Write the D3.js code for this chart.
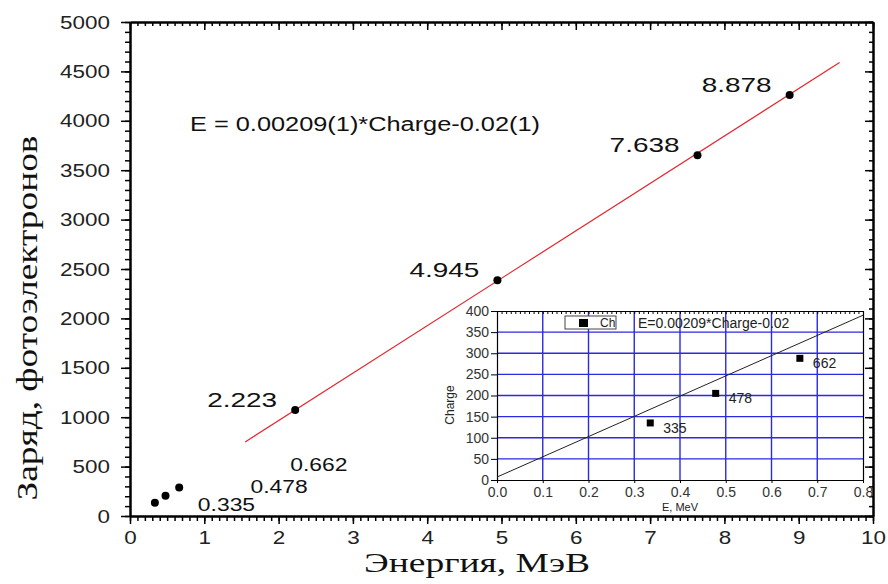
<!DOCTYPE html>
<html><head><meta charset="utf-8">
<script src="https://cdn.jsdelivr.net/npm/d3@7"></script>
<style>body{margin:0;background:#fff} svg{display:block}</style>
</head><body><svg id="c" width="888" height="584"></svg>
<script>
// ---- data ----
const energies = [0.335, 0.478, 0.662, 2.223, 4.945, 7.638, 8.878];
const charges = [135, 205, 288, 1072, 2385, 3652, 4262];
const peakLabels = ["0.335", "0.478", "0.662", "2.223", "4.945", "7.638", "8.878"];
const fitE = [1.55, 9.55];
const fitCharge = [750, 4590];
const xTicks = [0, 1, 2, 3, 4, 5, 6, 7, 8, 9, 10];
const yTicks = [0, 500, 1000, 1500, 2000, 2500, 3000, 3500, 4000, 4500, 5000];
const fitText = "E = 0.00209(1)*Charge-0.02(1)";
const xTitle = "Энергия, МэВ";
const yTitle = "Заряд, фотоэлектронов";

const insetE = [0.335, 0.478, 0.662];
const insetCharge = [135, 205, 288];
const insetLabels = ["335", "478", "662"];
const insetFitE = [0, 0.8];
const insetFitCharge = [7, 390];
const insetXTicks = [0, 0.1, 0.2, 0.3, 0.4, 0.5, 0.6, 0.7, 0.8];
const insetYTicks = [0, 50, 100, 150, 200, 250, 300, 350, 400];
const insetFitText = "E=0.00209*Charge-0.02";
const insetLegend = "Ch";
const insetXTitle = "E, MeV";
const insetYTitle = "Charge";

// ---- drawing ----
const svg = d3.select("#c");
const SANS = "'Liberation Sans', Arial, Helvetica, sans-serif";
const SERIF = "'Liberation Serif', 'Times New Roman', serif";

function stretch(sel, k) {
  sel.each(function () {
    const w = this.getComputedTextLength();
    d3.select(this).attr("textLength", w * k).attr("lengthAdjust", "spacingAndGlyphs");
  });
}

const M = { l: 130, r: 873, t: 22, b: 516 };
const x = d3.scaleLinear().domain([0, 10]).range([M.l, M.r]);
const y = d3.scaleLinear().domain([0, 5000]).range([M.b, M.t]);

const minorX = d3.range(0, 10.001, 0.1);
const minorY = d3.range(0, 5001, 100);

function styleAxis(g, w) {
  g.selectAll("path.domain").attr("stroke", "#000").attr("stroke-width", w);
  g.selectAll(".tick line").attr("stroke", "#000").attr("stroke-width", 1.5);
}

// minor ticks
svg.append("g").attr("transform", `translate(0,${M.b})`)
  .call(d3.axisBottom(x).tickValues(minorX).tickSize(5).tickFormat("").tickSizeOuter(0))
  .call(g => styleAxis(g, 2));
svg.append("g").attr("transform", `translate(0,${M.t})`)
  .call(d3.axisTop(x).tickValues(minorX).tickSize(-4).tickFormat("").tickSizeOuter(0))
  .call(g => styleAxis(g, 2));
svg.append("g").attr("transform", `translate(${M.l},0)`)
  .call(d3.axisLeft(y).tickValues(minorY).tickSize(5).tickFormat("").tickSizeOuter(0))
  .call(g => styleAxis(g, 2));
svg.append("g").attr("transform", `translate(${M.r},0)`)
  .call(d3.axisRight(y).tickValues(minorY).tickSize(-4).tickFormat("").tickSizeOuter(0))
  .call(g => styleAxis(g, 2));

// major ticks
const gx = svg.append("g").attr("transform", `translate(0,${M.b})`)
  .call(d3.axisBottom(x).tickValues(xTicks).tickSize(8).tickPadding(7).tickSizeOuter(0).tickFormat(d3.format("d")))
  .call(g => styleAxis(g, 2));
gx.selectAll("text").attr("font-family", SANS).attr("font-size", 19).attr("fill", "#222");
stretch(gx.selectAll("text"), 1.18);

const gy = svg.append("g").attr("transform", `translate(${M.l},0)`)
  .call(d3.axisLeft(y).tickValues(yTicks).tickSize(9).tickPadding(11).tickSizeOuter(0).tickFormat(d3.format("d")))
  .call(g => styleAxis(g, 2));
gy.selectAll("text").attr("font-family", SANS).attr("font-size", 19).attr("fill", "#222");
stretch(gy.selectAll("text"), 1.18);

svg.append("g").attr("transform", `translate(0,${M.t})`)
  .call(d3.axisTop(x).tickValues(xTicks).tickSize(-8).tickFormat("").tickSizeOuter(0))
  .call(g => styleAxis(g, 2));
svg.append("g").attr("transform", `translate(${M.r},0)`)
  .call(d3.axisRight(y).tickValues(yTicks).tickSize(-8).tickFormat("").tickSizeOuter(0))
  .call(g => styleAxis(g, 2));

// fit line
svg.append("path")
  .datum(fitE.map((e, i) => [e, fitCharge[i]]))
  .attr("d", d3.line().x(d => x(d[0])).y(d => y(d[1])))
  .attr("stroke", "#e4262e").attr("stroke-width", 1.2).attr("fill", "none");

// points
const pts = energies.map((e, i) => ({ e, c: charges[i], lab: peakLabels[i], i }));
svg.append("g").selectAll("circle").data(pts).join("circle")
  .attr("cx", d => x(d.e)).attr("cy", d => y(d.c)).attr("r", 4).attr("fill", "#000");

// labels: high peaks to upper-left, low peaks in a staircase
const lowOff = [[43, 8], [85, -3], [111, -17]];
const lt = svg.append("g").selectAll("text").data(pts).join("text")
  .attr("font-family", SANS).attr("fill", "#111")
  .attr("font-size", d => d.e < 1 ? 18 : 21)
  .attr("text-anchor", d => d.e < 1 ? "start" : "end")
  .attr("x", d => d.e < 1 ? x(d.e) + lowOff[d.i][0] : x(d.e) - 18)
  .attr("y", d => d.e < 1 ? y(d.c) + lowOff[d.i][1] : y(d.c) - 3)
  .text(d => d.lab);
lt.each(function (d) { stretch(d3.select(this), d.e < 1 ? 1.27 : 1.33); });

// equation
svg.append("text").attr("x", 190).attr("y", 131)
  .attr("font-family", SANS).attr("font-size", 20).attr("fill", "#111")
  .attr("textLength", 350).attr("lengthAdjust", "spacingAndGlyphs")
  .text(fitText);

// axis titles
svg.append("text").attr("x", 477).attr("y", 572).attr("text-anchor", "middle")
  .attr("font-family", SERIF).attr("font-size", 28).attr("fill", "#111")
  .attr("textLength", 226).attr("lengthAdjust", "spacingAndGlyphs")
  .text(xTitle);
svg.append("text").attr("transform", "translate(37,318) rotate(-90)").attr("text-anchor", "middle")
  .attr("font-family", SERIF).attr("font-size", 29).attr("fill", "#111")
  .attr("textLength", 365).attr("lengthAdjust", "spacingAndGlyphs")
  .text(yTitle);

// ---- inset ----
const I = { l: 497, r: 863, t: 311, b: 480 };
const ix = d3.scaleLinear().domain([0, 0.8]).range([I.l, I.r]);
const iy = d3.scaleLinear().domain([0, 400]).range([I.b, I.t]);
const ins = svg.append("g");
ins.append("rect").attr("x", I.l).attr("y", I.t).attr("width", I.r - I.l).attr("height", I.b - I.t).attr("fill", "#fff");

// grid
ins.append("g").selectAll("line.v").data(insetXTicks.slice(1, -1)).join("line")
  .attr("x1", d => ix(d)).attr("x2", d => ix(d)).attr("y1", I.t).attr("y2", I.b)
  .attr("stroke", "#2a2ae0").attr("stroke-width", 1.4);
ins.append("g").selectAll("line.h").data(insetYTicks.slice(1, -1)).join("line")
  .attr("y1", d => iy(d)).attr("y2", d => iy(d)).attr("x1", I.l).attr("x2", I.r)
  .attr("stroke", "#2a2ae0").attr("stroke-width", 1.4);

// axes
function styleI(g) {
  g.selectAll("path.domain").attr("stroke", "#000").attr("stroke-width", 1.2);
  g.selectAll(".tick line").attr("stroke", "#000").attr("stroke-width", 1);
}
ins.append("g").attr("transform", `translate(0,${I.t})`)
  .call(d3.axisTop(ix).tickValues(d3.range(0, 0.8001, 0.01)).tickSize(-3).tickFormat("").tickSizeOuter(0)).call(styleI);
ins.append("g").attr("transform", `translate(${I.r},0)`)
  .call(d3.axisRight(iy).tickValues([]).tickSizeOuter(0)).call(styleI);
const igx = ins.append("g").attr("transform", `translate(0,${I.b})`)
  .call(d3.axisBottom(ix).tickValues(insetXTicks).tickSize(3).tickPadding(4).tickSizeOuter(0).tickFormat(d3.format(".1f"))).call(styleI);
igx.selectAll("text").attr("font-family", SANS).attr("font-size", 14).attr("fill", "#333");
const igy = ins.append("g").attr("transform", `translate(${I.l},0)`)
  .call(d3.axisLeft(iy).tickValues(insetYTicks).tickSize(6).tickPadding(2).tickSizeOuter(0).tickFormat(d3.format("d"))).call(styleI);
igy.selectAll("text").attr("font-family", SANS).attr("font-size", 14).attr("fill", "#333");

// fit line
ins.append("path")
  .datum(insetFitE.map((e, i) => [e, insetFitCharge[i]]))
  .attr("d", d3.line().x(d => ix(d[0])).y(d => iy(d[1])))
  .attr("stroke", "#222").attr("stroke-width", 1).attr("fill", "none");

// points
const ipts = insetE.map((e, i) => ({ e, c: insetCharge[i], lab: insetLabels[i] }));
ins.append("g").selectAll("rect").data(ipts).join("rect")
  .attr("x", d => ix(d.e) - 3.5).attr("y", d => iy(d.c) - 3.5).attr("width", 7).attr("height", 7).attr("fill", "#000");
ins.append("g").selectAll("text").data(ipts).join("text")
  .attr("x", d => ix(d.e) + 13).attr("y", d => iy(d.c) + 10)
  .attr("font-family", SANS).attr("font-size", 14).attr("fill", "#222")
  .text(d => d.lab);

// legend
ins.append("rect").attr("x", 565).attr("y", 316).attr("width", 51).attr("height", 13)
  .attr("fill", "#fff").attr("stroke", "#444").attr("stroke-width", 1);
ins.append("rect").attr("x", 579).attr("y", 319).attr("width", 9).attr("height", 8).attr("fill", "#000");
ins.append("text").attr("x", 600).attr("y", 327).attr("font-family", SANS).attr("font-size", 12).attr("fill", "#222").text(insetLegend);
ins.append("text").attr("x", 638).attr("y", 328).attr("font-family", SANS).attr("font-size", 14).attr("fill", "#222").text(insetFitText);

// inset titles
ins.append("text").attr("x", 680).attr("y", 511).attr("text-anchor", "middle")
  .attr("font-family", SANS).attr("font-size", 11).attr("fill", "#222").text(insetXTitle);
ins.append("text").attr("transform", "translate(454,405) rotate(-90)").attr("text-anchor", "middle")
  .attr("font-family", SANS).attr("font-size", 12).attr("fill", "#222").text(insetYTitle);
</script>
</body></html>
